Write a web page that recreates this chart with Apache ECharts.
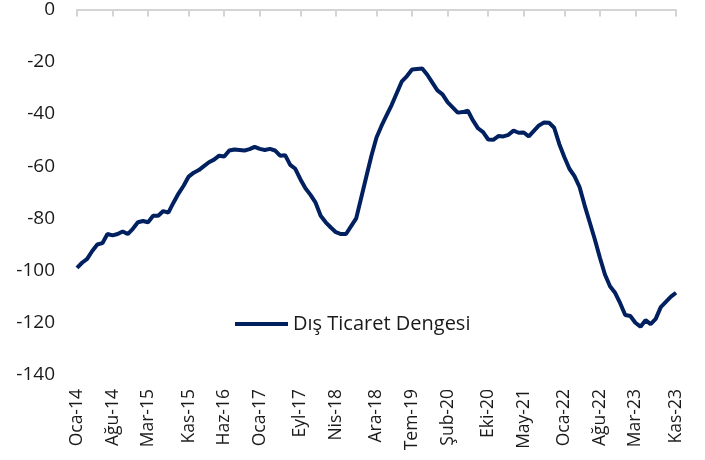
<!DOCTYPE html>
<html>
<head>
<meta charset="utf-8">
<script src="https://cdn.jsdelivr.net/npm/echarts@6/dist/echarts.min.js"></script>
<style>
  html, body { margin: 0; padding: 0; background: #fff; }
  #chart { width: 705px; height: 460px; }
</style>
</head>
<body>
<div id="chart"></div>
<script>
// aylik veri: Oca-14 .. Kas-23
var monthNames = ['Oca', 'Şub', 'Mar', 'Nis', 'May', 'Haz', 'Tem', 'Ağu', 'Eyl', 'Eki', 'Kas', 'Ara'];
var startYear = 14;
var tickLabels = ['Oca-14', 'Ağu-14', 'Mar-15', 'Kas-15', 'Haz-16', 'Oca-17', 'Eyl-17', 'Nis-18', 'Ara-18',
    'Tem-19', 'Şub-20', 'Eki-20', 'May-21', 'Oca-22', 'Ağu-22', 'Mar-23', 'Kas-23'];
var seriesName = 'Dış Ticaret Dengesi';
var values = [
    -99, -97, -95.5, -92.5, -90, -89.5, -86, -86.5, -86, -85, -86, -84,
    -81.5, -81, -81.5, -79, -79, -77.2, -77.8, -74, -70.5, -67.5, -64, -62.5,
    -61.5, -60, -58.5, -57.5, -56, -56.3, -54, -53.6, -53.8, -54, -53.5, -52.6,
    -53.4, -53.8, -53.4, -54, -56, -55.8, -59.5, -61, -65, -68.5, -71, -74,
    -79, -81.5, -83.5, -85.3, -86, -86, -83, -80, -72, -64, -56, -49,
    -44.5, -40.5, -36.5, -32, -27.5, -25.5, -23, -22.8, -22.6, -25, -28, -31,
    -32.5, -35.5, -37.5, -39.5, -39.3, -38.8, -42.5, -45.5, -47, -49.8, -49.9, -48.5,
    -48.6, -48, -46.4, -47.2, -47.1, -48.6, -46.5, -44.4, -43.3, -43.4, -45.3, -51.5,
    -56.5, -61, -63.8, -68, -75, -81.5, -88, -95, -101.5, -106, -108.5, -112.5,
    -117, -117.4, -120, -121.5, -119, -120.5, -118.5, -114, -112, -110, -108.5
];

var categories = [];
for (var i = 0; i < values.length; i++) {
    categories.push(monthNames[i % 12] + '-' + (startYear + Math.floor(i / 12)));
}

function showTick(idx, name) {
    return tickLabels.indexOf(name) >= 0;
}

var myChart = echarts.init(document.getElementById('chart'));
var font = 'Open Sans';
var axisGrey = '#d4d4d4';
var option = {
    animation: false,
    textStyle: { fontFamily: font },
    grid: {
        left: 77,
        right: 29,
        top: 8,
        bottom: 85
    },
    legend: {
        left: 230,
        top: 309,
        itemWidth: 53,
        itemHeight: 4,
        itemGap: 10,
        textStyle: { fontSize: 20, color: '#1a1a1a', fontFamily: font },
        data: [{ name: seriesName, icon: 'rect' }]
    },
    xAxis: [
        {
            type: 'category',
            position: 'bottom',
            boundaryGap: false,
            data: categories,
            axisLine: { show: false },
            axisTick: { show: false },
            axisLabel: {
                interval: showTick,
                rotate: 90,
                margin: 14,
                fontSize: 17.5,
                color: '#1a1a1a',
                fontFamily: font
            }
        },
        {
            // ust eksen cizgisi (0 seviyesi) ve tikler
            type: 'category',
            position: 'top',
            boundaryGap: false,
            data: categories,
            axisLine: { show: true, onZero: false, lineStyle: { color: axisGrey, width: 2 } },
            axisTick: { show: true, inside: true, length: 7, interval: showTick, lineStyle: { color: axisGrey, width: 2 } },
            axisLabel: { show: false }
        }
    ],
    yAxis: {
        type: 'value',
        min: -140,
        max: 0,
        interval: 20,
        axisLine: { show: false },
        axisTick: { show: false },
        splitLine: { show: false },
        axisLabel: {
            margin: 22,
            fontSize: 19,
            color: '#1a1a1a',
            fontFamily: font
        }
    },
    series: [
        {
            name: seriesName,
            type: 'line',
            xAxisIndex: 0,
            symbol: 'none',
            data: values,
            lineStyle: { color: '#002060', width: 4 },
            itemStyle: { color: '#002060' }
        }
    ]
};
myChart.setOption(option);
</script>
</body>
</html>
